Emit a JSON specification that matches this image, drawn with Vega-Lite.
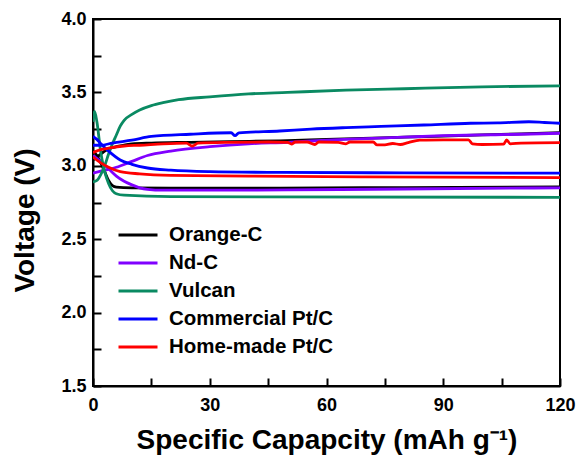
{
  "$schema": "https://vega.github.io/schema/vega-lite/v6.json",
  "width": 467,
  "height": 367,
  "autosize": "none",
  "padding": {"left": 93, "top": 19, "right": 18, "bottom": 70},
  "background": "white",
  "config": {"view": {"stroke": "black", "strokeWidth": 2}, "font": "Liberation Sans"},
  "data": {"values": [
    {"s":"Orange-C","b":"c","x":0,"v":3.04},{"s":"Orange-C","b":"c","x":1,"v":3.06},{"s":"Orange-C","b":"c","x":2,"v":3.08},{"s":"Orange-C","b":"c","x":3,"v":3.10},{"s":"Orange-C","b":"c","x":4,"v":3.115},{"s":"Orange-C","b":"c","x":6,"v":3.13},{"s":"Orange-C","b":"c","x":8,"v":3.14},{"s":"Orange-C","b":"c","x":10,"v":3.15},{"s":"Orange-C","b":"c","x":15,"v":3.155},{"s":"Orange-C","b":"c","x":25,"v":3.16},{"s":"Orange-C","b":"c","x":35,"v":3.165},{"s":"Orange-C","b":"c","x":48,"v":3.17},{"s":"Orange-C","b":"c","x":60,"v":3.18},{"s":"Orange-C","b":"c","x":80,"v":3.195},{"s":"Orange-C","b":"c","x":100,"v":3.21},{"s":"Orange-C","b":"c","x":120,"v":3.225},
    {"s":"Orange-C","b":"d","x":0,"v":3.10},{"s":"Orange-C","b":"d","x":1,"v":3.07},{"s":"Orange-C","b":"d","x":2,"v":3.02},{"s":"Orange-C","b":"d","x":3,"v":2.96},{"s":"Orange-C","b":"d","x":4,"v":2.90},{"s":"Orange-C","b":"d","x":5,"v":2.865},{"s":"Orange-C","b":"d","x":6,"v":2.855},{"s":"Orange-C","b":"d","x":10,"v":2.85},{"s":"Orange-C","b":"d","x":20,"v":2.848},{"s":"Orange-C","b":"d","x":48,"v":2.848},{"s":"Orange-C","b":"d","x":80,"v":2.852},{"s":"Orange-C","b":"d","x":120,"v":2.857},
    {"s":"Nd-C","b":"c","x":0,"v":2.95},{"s":"Nd-C","b":"c","x":3,"v":2.97},{"s":"Nd-C","b":"c","x":6,"v":2.99},{"s":"Nd-C","b":"c","x":10,"v":3.03},{"s":"Nd-C","b":"c","x":14,"v":3.07},{"s":"Nd-C","b":"c","x":20,"v":3.10},{"s":"Nd-C","b":"c","x":30,"v":3.13},{"s":"Nd-C","b":"c","x":40,"v":3.15},{"s":"Nd-C","b":"c","x":50,"v":3.16},{"s":"Nd-C","b":"c","x":60,"v":3.175},{"s":"Nd-C","b":"c","x":70,"v":3.185},{"s":"Nd-C","b":"c","x":80,"v":3.195},{"s":"Nd-C","b":"c","x":90,"v":3.205},{"s":"Nd-C","b":"c","x":100,"v":3.21},{"s":"Nd-C","b":"c","x":110,"v":3.215},{"s":"Nd-C","b":"c","x":120,"v":3.222},
    {"s":"Nd-C","b":"d","x":0,"v":3.07},{"s":"Nd-C","b":"d","x":2,"v":3.03},{"s":"Nd-C","b":"d","x":4,"v":2.98},{"s":"Nd-C","b":"d","x":6,"v":2.93},{"s":"Nd-C","b":"d","x":8,"v":2.895},{"s":"Nd-C","b":"d","x":10,"v":2.87},{"s":"Nd-C","b":"d","x":12,"v":2.85},{"s":"Nd-C","b":"d","x":14,"v":2.84},{"s":"Nd-C","b":"d","x":18,"v":2.834},{"s":"Nd-C","b":"d","x":30,"v":2.834},{"s":"Nd-C","b":"d","x":50,"v":2.836},{"s":"Nd-C","b":"d","x":80,"v":2.842},{"s":"Nd-C","b":"d","x":120,"v":2.85},
    {"s":"Vulcan","b":"c","x":0,"v":2.89},{"s":"Vulcan","b":"c","x":1,"v":2.90},{"s":"Vulcan","b":"c","x":2,"v":2.94},{"s":"Vulcan","b":"c","x":3,"v":3.00},{"s":"Vulcan","b":"c","x":4,"v":3.08},{"s":"Vulcan","b":"c","x":5,"v":3.15},{"s":"Vulcan","b":"c","x":6,"v":3.21},{"s":"Vulcan","b":"c","x":7,"v":3.27},{"s":"Vulcan","b":"c","x":8,"v":3.31},{"s":"Vulcan","b":"c","x":10,"v":3.35},{"s":"Vulcan","b":"c","x":12,"v":3.38},{"s":"Vulcan","b":"c","x":15,"v":3.41},{"s":"Vulcan","b":"c","x":18,"v":3.43},{"s":"Vulcan","b":"c","x":22,"v":3.45},{"s":"Vulcan","b":"c","x":30,"v":3.47},{"s":"Vulcan","b":"c","x":40,"v":3.49},{"s":"Vulcan","b":"c","x":50,"v":3.50},{"s":"Vulcan","b":"c","x":65,"v":3.515},{"s":"Vulcan","b":"c","x":80,"v":3.525},{"s":"Vulcan","b":"c","x":100,"v":3.538},{"s":"Vulcan","b":"c","x":120,"v":3.545},
    {"s":"Vulcan","b":"d","x":0,"v":3.30},{"s":"Vulcan","b":"d","x":0.4,"v":3.37},{"s":"Vulcan","b":"d","x":1,"v":3.30},{"s":"Vulcan","b":"d","x":2,"v":3.09},{"s":"Vulcan","b":"d","x":3,"v":2.96},{"s":"Vulcan","b":"d","x":4,"v":2.88},{"s":"Vulcan","b":"d","x":5,"v":2.83},{"s":"Vulcan","b":"d","x":6,"v":2.81},{"s":"Vulcan","b":"d","x":8,"v":2.80},{"s":"Vulcan","b":"d","x":20,"v":2.79},{"s":"Vulcan","b":"d","x":120,"v":2.785},
    {"s":"Commercial Pt/C","b":"c","x":0,"v":3.14},{"s":"Commercial Pt/C","b":"c","x":2,"v":3.14},{"s":"Commercial Pt/C","b":"c","x":5,"v":3.155},{"s":"Commercial Pt/C","b":"c","x":10,"v":3.175},{"s":"Commercial Pt/C","b":"c","x":15,"v":3.20},{"s":"Commercial Pt/C","b":"c","x":25,"v":3.215},{"s":"Commercial Pt/C","b":"c","x":35.5,"v":3.225},{"s":"Commercial Pt/C","b":"c","x":36.5,"v":3.205},{"s":"Commercial Pt/C","b":"c","x":37.5,"v":3.225},{"s":"Commercial Pt/C","b":"c","x":48,"v":3.237},{"s":"Commercial Pt/C","b":"c","x":56,"v":3.25},{"s":"Commercial Pt/C","b":"c","x":65,"v":3.26},{"s":"Commercial Pt/C","b":"c","x":74,"v":3.268},{"s":"Commercial Pt/C","b":"c","x":85,"v":3.278},{"s":"Commercial Pt/C","b":"c","x":97,"v":3.29},{"s":"Commercial Pt/C","b":"c","x":104,"v":3.292},{"s":"Commercial Pt/C","b":"c","x":112,"v":3.30},{"s":"Commercial Pt/C","b":"c","x":116,"v":3.295},{"s":"Commercial Pt/C","b":"c","x":120,"v":3.29},
    {"s":"Commercial Pt/C","b":"d","x":0,"v":3.20},{"s":"Commercial Pt/C","b":"d","x":1,"v":3.18},{"s":"Commercial Pt/C","b":"d","x":2,"v":3.15},{"s":"Commercial Pt/C","b":"d","x":4,"v":3.10},{"s":"Commercial Pt/C","b":"d","x":7,"v":3.04},{"s":"Commercial Pt/C","b":"d","x":10,"v":3.01},{"s":"Commercial Pt/C","b":"d","x":14,"v":2.985},{"s":"Commercial Pt/C","b":"d","x":20,"v":2.97},{"s":"Commercial Pt/C","b":"d","x":30,"v":2.96},{"s":"Commercial Pt/C","b":"d","x":48,"v":2.955},{"s":"Commercial Pt/C","b":"d","x":80,"v":2.952},{"s":"Commercial Pt/C","b":"d","x":120,"v":2.95},
    {"s":"Home-made Pt/C","b":"c","x":0,"v":3.09},{"s":"Home-made Pt/C","b":"c","x":2,"v":3.11},{"s":"Home-made Pt/C","b":"c","x":4,"v":3.12},{"s":"Home-made Pt/C","b":"c","x":8,"v":3.135},{"s":"Home-made Pt/C","b":"c","x":12,"v":3.14},{"s":"Home-made Pt/C","b":"c","x":18,"v":3.15},{"s":"Home-made Pt/C","b":"c","x":24,"v":3.155},{"s":"Home-made Pt/C","b":"c","x":25.5,"v":3.135},{"s":"Home-made Pt/C","b":"c","x":27,"v":3.155},{"s":"Home-made Pt/C","b":"c","x":35,"v":3.16},{"s":"Home-made Pt/C","b":"c","x":45,"v":3.162},{"s":"Home-made Pt/C","b":"c","x":50,"v":3.16},{"s":"Home-made Pt/C","b":"c","x":51,"v":3.148},{"s":"Home-made Pt/C","b":"c","x":52,"v":3.162},{"s":"Home-made Pt/C","b":"c","x":55,"v":3.162},{"s":"Home-made Pt/C","b":"c","x":57,"v":3.145},{"s":"Home-made Pt/C","b":"c","x":58,"v":3.162},{"s":"Home-made Pt/C","b":"c","x":63,"v":3.16},{"s":"Home-made Pt/C","b":"c","x":65,"v":3.15},{"s":"Home-made Pt/C","b":"c","x":66,"v":3.162},{"s":"Home-made Pt/C","b":"c","x":72,"v":3.162},{"s":"Home-made Pt/C","b":"c","x":73,"v":3.142},{"s":"Home-made Pt/C","b":"c","x":75,"v":3.142},{"s":"Home-made Pt/C","b":"c","x":77,"v":3.152},{"s":"Home-made Pt/C","b":"c","x":79,"v":3.145},{"s":"Home-made Pt/C","b":"c","x":81,"v":3.158},{"s":"Home-made Pt/C","b":"c","x":84,"v":3.175},{"s":"Home-made Pt/C","b":"c","x":90,"v":3.176},{"s":"Home-made Pt/C","b":"c","x":96.5,"v":3.176},{"s":"Home-made Pt/C","b":"c","x":97.5,"v":3.15},{"s":"Home-made Pt/C","b":"c","x":100,"v":3.145},{"s":"Home-made Pt/C","b":"c","x":105.5,"v":3.148},{"s":"Home-made Pt/C","b":"c","x":106.3,"v":3.176},{"s":"Home-made Pt/C","b":"c","x":107.2,"v":3.15},{"s":"Home-made Pt/C","b":"c","x":110,"v":3.155},{"s":"Home-made Pt/C","b":"c","x":120,"v":3.158},
    {"s":"Home-made Pt/C","b":"d","x":0,"v":3.06},{"s":"Home-made Pt/C","b":"d","x":2,"v":3.02},{"s":"Home-made Pt/C","b":"d","x":4,"v":2.99},{"s":"Home-made Pt/C","b":"d","x":7,"v":2.96},{"s":"Home-made Pt/C","b":"d","x":12,"v":2.945},{"s":"Home-made Pt/C","b":"d","x":20,"v":2.935},{"s":"Home-made Pt/C","b":"d","x":40,"v":2.93},{"s":"Home-made Pt/C","b":"d","x":70,"v":2.925},{"s":"Home-made Pt/C","b":"d","x":120,"v":2.92}
  ]},
  "mark": {"type": "line", "strokeWidth": 2.8, "interpolate": "monotone", "clip": true},
  "encoding": {
    "x": {
      "field": "x", "type": "quantitative",
      "scale": {"domain": [0, 120], "nice": false},
      "axis": {
        "title": "Specific Capapcity (mAh g⁻¹)",
        "values": [0, 15, 30, 45, 60, 75, 90, 105, 120],
        "labelExpr": "datum.value % 30 == 0 ? datum.label : ''",
        "grid": false,
        "domainColor": "black", "domainWidth": 2,
        "tickColor": "black", "tickWidth": 2, "tickSize": -8,
        "labelPadding": 18, "labelFlush": false,
        "labelFont": "Liberation Sans", "labelFontSize": 18, "labelFontWeight": "bold", "labelColor": "black",
        "titleFont": "Liberation Sans", "titleFontSize": 28, "titleFontWeight": "bold", "titleColor": "black",
        "titleBaseline": "alphabetic", "titleY": 62
      }
    },
    "y": {
      "field": "v", "type": "quantitative",
      "scale": {"domain": [1.5, 4.0], "nice": false, "zero": false},
      "axis": {
        "title": "Voltage (V)",
        "values": [1.5, 1.75, 2, 2.25, 2.5, 2.75, 3, 3.25, 3.5, 3.75, 4],
        "labelExpr": "round(datum.value * 4) % 2 == 0 ? format(datum.value, '.1f') : ''",
        "grid": false,
        "domainColor": "black", "domainWidth": 2,
        "tickColor": "black", "tickWidth": 2, "tickSize": -8,
        "labelPadding": 15, "labelFlush": false,
        "labelFont": "Liberation Sans", "labelFontSize": 18, "labelFontWeight": "bold", "labelColor": "black",
        "titleFont": "Liberation Sans", "titleFontSize": 28, "titleFontWeight": "bold", "titleColor": "black",
        "titleBaseline": "alphabetic", "titleAngle": 270, "titleAlign": "center", "titleX": -60, "titleY": 201
      }
    },
    "color": {
      "field": "s", "type": "nominal",
      "scale": {
        "domain": ["Orange-C", "Nd-C", "Vulcan", "Commercial Pt/C", "Home-made Pt/C"],
        "range": ["#000000", "#8000ff", "#0a8a62", "#0000ff", "#ff0000"]
      },
      "legend": {
        "orient": "none", "legendX": 24, "legendY": 202, "title": null,
        "symbolType": "stroke", "symbolSize": 1521, "symbolStrokeWidth": 3,
        "clipHeight": 28, "rowPadding": 0, "labelOffset": 10, "padding": 0,
        "labelFont": "Liberation Sans", "labelFontSize": 20.5, "labelFontWeight": "bold", "labelColor": "black", "labelLimit": 300
      }
    },
    "detail": {"field": "b"}
  }
}
